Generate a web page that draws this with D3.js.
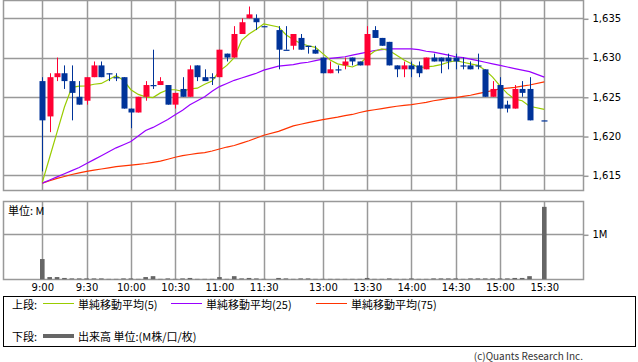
<!DOCTYPE html>
<html>
<head>
<meta charset="utf-8">
<script src="https://cdn.jsdelivr.net/npm/d3@7"></script>
<style>
  body { margin: 0; background: #fff; }
  svg { display: block; font-family: "DejaVu Sans", sans-serif; }
  .jp { font-family: "Noto Sans CJK JP", sans-serif; font-size: 11px; fill: #000; }
</style>
</head>
<body>
<div id="chart"></div>
<script>
// 5-minute bars, morning + afternoon session
const times = [
  "9:00","9:05","9:10","9:15","9:20","9:25","9:30","9:35","9:40","9:45","9:50","9:55",
  "10:00","10:05","10:10","10:15","10:20","10:25","10:30","10:35","10:40","10:45","10:50","10:55",
  "11:00","11:05","11:10","11:15","11:20","11:25","11:30",
  "12:30","12:35","12:40","12:45","12:50","12:55",
  "13:00","13:05","13:10","13:15","13:20","13:25","13:30","13:35","13:40","13:45","13:50","13:55",
  "14:00","14:05","14:10","14:15","14:20","14:25","14:30","14:35","14:40","14:45","14:50","14:55",
  "15:00","15:05","15:10","15:15","15:20","15:30"
];
const open = [
  1627,1622.5,1627.5,1628,1627,1625,1624.5,1627.5,1629,1628,1627.5,1627.5,
  1623.5,1623,1625,1626.5,1626.5,1626.5,1624,1626,1625,1629,1627.5,1627.5,
  1627.5,1630.5,1630,1633,1635,1635,1634,
  1633.5,1631,1631.5,1632.5,1631.5,1631,
  1630,1628,1628.5,1629,1630,1629.5,1629,1633.5,1632.5,1632,1629,1628.5,
  1629,1629,1628.5,1630,1630,1630,1630,1629,1629,1629,1628.5,1625,
  1626.5,1624,1623.5,1626,1626,1622
];
const high = [
  1627.5,1628,1630,1629,1629,1627,1627.5,1629.5,1629.5,1628,1628,1627.5,
  1623.5,1625,1627,1631,1627.5,1626.5,1625.5,1627.5,1629,1629,1628.5,1628,
  1631,1630.5,1634,1635,1636.5,1635.5,1634,
  1634,1634,1633,1633,1631.5,1631.5,
  1630,1629.5,1629,1630,1630,1629.5,1634,1634,1632.5,1632,1629,1629.5,
  1629.5,1629.5,1630,1630.5,1630,1630.5,1630.5,1630,1629.5,1630.5,1628.5,1627,
  1627.5,1624.5,1626.5,1627,1627.5,1622
];
const low = [
  1615.5,1620.5,1627,1626,1622,1624,1624,1627.5,1627.5,1627,1627,1623.5,
  1621,1623,1624.5,1626,1626.5,1624,1623.5,1625,1625,1627,1627,1626.5,
  1627.5,1629.5,1630,1633,1635,1633.5,1634,
  1628.5,1631,1631,1631,1630.5,1630.5,
  1628,1628,1628,1628.5,1629,1629,1629,1632.5,1631.5,1629,1627.5,1627.5,
  1627.5,1627.5,1628.5,1629.5,1628,1628.5,1628.5,1628.5,1628.5,1628.5,1625,1625,
  1623.5,1623,1623.5,1625,1622,1622
];
const close = [
  1622,1627.5,1628,1627,1625.5,1624,1627.5,1629,1627.5,1628,1627.5,1623.5,
  1623,1625,1626.5,1626.5,1627,1624,1625.5,1625,1628.5,1627.5,1627,1627.5,
  1631,1630,1633,1634.5,1635.5,1634.5,1634,
  1631,1631,1633,1631,1631.5,1630.5,
  1628,1628.5,1628.5,1629.5,1629.5,1629,1633,1632.5,1631.5,1629,1628.5,1629,
  1628.5,1628,1630,1629.5,1629.5,1629.5,1629.5,1629,1628.5,1629,1625,1626,
  1623.5,1623.5,1626,1625.5,1622,1622
];
// volume, millions
const volume = [
  0.45,0.05,0.05,0.03,0.02,0.02,0.02,0.02,0.02,0.01,0.01,0.02,
  0.02,0.01,0.05,0.07,0.01,0.02,0.01,0.02,0.03,0.01,0.01,0.01,
  0.05,0.01,0.07,0.02,0.03,0.02,0.01,
  0.03,0.02,0.01,0.02,0.02,0.01,
  0.01,0.01,0.01,0.01,0.01,0.01,0.03,0.01,0.01,0.02,0.01,0.01,
  0.02,0.01,0.01,0.02,0.02,0.02,0.02,0.01,0.02,0.02,0.02,0.02,
  0.02,0.02,0.03,0.03,0.07,1.61
];
const ma5 = [
  1614.1,1617.3,1620.5,1623.7,1626.2,1626.35,1626.4,1626.6,1626.7,1627.2,1627.7,1627.1,
  1625.9,1625.3,1625.0,1624.9,1625.5,1625.9,1625.9,1625.7,1626.0,1626.1,1626.6,1627.0,
  1628.3,1629.0,1630.0,1632.2,1633.0,1633.6,1634.3,
  1633.9,1632.9,1632.3,1631.8,1631.5,1631.3,
  1630.5,1629.7,1629.2,1629.0,1628.8,1629.2,1630.1,1630.8,1631.1,1630.9,1630.3,1629.7,
  1629.2,1628.7,1628.8,1628.9,1629.1,1629.4,1629.6,1629.4,1629.2,1629.0,1628.4,1627.5,
  1626.4,1625.4,1624.7,1624.5,1623.8,1623.4
];
const ma25 = [
  1614.0,1614.4,1614.8,1615.2,1615.6,1616.0,1616.5,1617.0,1617.5,1618.0,1618.5,1618.9,
  1619.3,1620.0,1620.7,1621.1,1621.6,1622.1,1622.7,1623.3,1624.0,1624.5,1625.0,1625.7,
  1626.3,1626.7,1627.1,1627.4,1627.7,1628.0,1628.4,
  1628.9,1629.0,1629.1,1629.3,1629.4,1629.6,
  1629.8,1629.9,1630.0,1630.1,1630.3,1630.5,1630.7,1630.9,1631.0,1631.1,1631.1,1631.1,
  1631.1,1631.0,1630.8,1630.7,1630.5,1630.3,1630.1,1630.0,1629.8,1629.6,1629.4,1629.2,
  1629.0,1628.8,1628.6,1628.4,1628.2,1627.5
];
const ma75 = [
  1614.0,1614.3,1614.6,1614.85,1615.1,1615.3,1615.5,1615.65,1615.8,1615.95,1616.1,1616.2,
  1616.3,1616.4,1616.5,1616.65,1616.8,1617.05,1617.3,1617.5,1617.65,1617.8,1617.9,1618.1,
  1618.35,1618.6,1618.8,1619.1,1619.4,1619.75,1620.1,
  1620.6,1620.95,1621.3,1621.5,1621.7,1621.9,
  1622.1,1622.25,1622.4,1622.6,1622.75,1623.0,1623.2,1623.35,1623.5,1623.65,1623.8,1623.9,
  1624.0,1624.15,1624.3,1624.5,1624.65,1624.8,1624.9,1625.05,1625.2,1625.4,1625.6,1625.8,
  1626.0,1626.1,1626.2,1626.35,1626.5,1626.9
];

const priceTicks = [1615, 1620, 1625, 1630, 1635];
const timeTicks = ["9:00","9:30","10:00","10:30","11:00","11:30","13:00","13:30","14:00","14:30","15:00","15:30"];
const volumeTicks = [1];
const maSeries = [
  { name: "単純移動平均(5)", values: ma5, color: "#99cc00" },
  { name: "単純移動平均(25)", values: ma25, color: "#9900ff" },
  { name: "単純移動平均(75)", values: ma75, color: "#ff3300" },
];

const W = 638, H = 362;
const frame = { left: 3.5, right: 583.5 };
const pricePanel = { top: 0.5, bottom: 190.5 };
const volPanel = { top: 201.5, bottom: 279.5 };
const gridColor = "#999";
const upColor = "#ff0033", downColor = "#003399";

// trading minutes since 9:00, lunch break squeezed to 10 minutes
const sessionMinutes = (t) => {
  const [h, m] = t.split(":").map(Number);
  const mins = h * 60 + m - 540;
  return mins >= 210 ? mins - 50 : mins;
};

const x = d3.scaleLinear().domain([0, 340]).range([42.3, 544.3]);
const y = d3.scaleLinear().domain([1615, 1635]).range([175.3, 18.3]);
const yv = d3.scaleLinear().domain([0, 1]).range([279.3, 234.3]);

const bars = times.map((t, i) => ({
  t, xm: sessionMinutes(t),
  o: open[i], h: high[i], l: low[i], c: close[i], v: volume[i],
}));

const svg = d3.select("#chart").append("svg").attr("width", W).attr("height", H);

// ---------- grids & frames ----------
function drawGrid(g, top, bottom) {
  g.selectAll(".vgrid")
    .data(timeTicks)
    .join("line")
    .attr("class", "vgrid")
    .attr("x1", (d) => Math.round(x(sessionMinutes(d))) + 0.5)
    .attr("x2", (d) => Math.round(x(sessionMinutes(d))) + 0.5)
    .attr("y1", top)
    .attr("y2", bottom)
    .attr("stroke", gridColor)
    .attr("stroke-width", 1.5);
}

function styleAxis(g) {
  g.select(".domain").remove();
  g.selectAll(".tick line").attr("stroke", gridColor).attr("stroke-width", 1.5)
    .attr("transform", "translate(0,0.5)");
  g.selectAll(".tick text").attr("font-size", 10).attr("fill", "#000")
    .attr("font-family", "DejaVu Sans");
}

const gPrice = svg.append("g");
drawGrid(gPrice, pricePanel.top, pricePanel.bottom);
gPrice
  .selectAll(".hgrid")
  .data(priceTicks)
  .join("line")
  .attr("class", "hgrid")
  .attr("x1", frame.left)
  .attr("x2", frame.right)
  .attr("y1", (d) => Math.round(y(d)) + 0.5)
  .attr("y2", (d) => Math.round(y(d)) + 0.5)
  .attr("stroke", gridColor)
  .attr("stroke-width", 1.5);
gPrice
  .append("rect")
  .attr("x", frame.left)
  .attr("y", pricePanel.top)
  .attr("width", frame.right - frame.left)
  .attr("height", pricePanel.bottom - pricePanel.top)
  .attr("fill", "none")
  .attr("stroke", gridColor)
  .attr("stroke-width", 1.5);
gPrice
  .append("g")
  .attr("transform", `translate(${frame.right},0)`)
  .call(
    d3.axisRight(y)
      .tickValues(priceTicks)
      .tickSize(5)
      .tickPadding(4)
      .tickFormat(d3.format(","))
  )
  .call(styleAxis);

const gVol = svg.append("g");
drawGrid(gVol, volPanel.top, volPanel.bottom);
gVol
  .selectAll(".hgrid")
  .data(volumeTicks)
  .join("line")
  .attr("class", "hgrid")
  .attr("x1", frame.left)
  .attr("x2", frame.right)
  .attr("y1", (d) => Math.round(yv(d)) + 0.5)
  .attr("y2", (d) => Math.round(yv(d)) + 0.5)
  .attr("stroke", gridColor)
  .attr("stroke-width", 1.5);
gVol
  .append("rect")
  .attr("x", frame.left)
  .attr("y", volPanel.top)
  .attr("width", frame.right - frame.left)
  .attr("height", volPanel.bottom - volPanel.top)
  .attr("fill", "none")
  .attr("stroke", gridColor)
  .attr("stroke-width", 1.5);
gVol
  .append("g")
  .attr("transform", `translate(${frame.right},0)`)
  .call(
    d3.axisRight(yv)
      .tickValues(volumeTicks)
      .tickSize(5)
      .tickPadding(4)
      .tickFormat((d) => `${d}M`)
  )
  .call(styleAxis);
gVol
  .append("text")
  .attr("class", "jp")
  .attr("x", 8)
  .attr("y", 210)
  .attr("dominant-baseline", "central")
  .text("単位: M");

// time axis under the volume panel
svg
  .append("g")
  .attr("transform", `translate(0,${volPanel.bottom})`)
  .call(
    d3.axisBottom(x)
      .tickValues(timeTicks.map(sessionMinutes))
      .tickSize(0)
      .tickPadding(4)
      .tickFormat((d, i) => timeTicks[i])
  )
  .call(styleAxis);

// ---------- volume bars ----------
svg
  .append("g")
  .selectAll("rect")
  .data(bars)
  .join("rect")
  .attr("x", (d) => x(d.xm) - 2.3)
  .attr("width", 4.6)
  .attr("y", (d) => yv(d.v))
  .attr("height", (d) => yv(0) - yv(d.v))
  .attr("fill", "#666");

// ---------- moving averages ----------
const line = d3.line().x((d) => x(d[0])).y((d) => y(d[1]));
svg
  .append("g")
  .selectAll("path")
  .data(maSeries.slice().reverse())
  .join("path")
  .attr("fill", "none")
  .attr("stroke", (d) => d.color)
  .attr("stroke-width", 1.2)
  .attr("d", (s) => line(bars.map((b, i) => [b.xm, s.values[i]])));

// ---------- candles ----------
const candle = svg
  .append("g")
  .selectAll("g")
  .data(bars)
  .join("g")
  .attr("fill", (d) => (d.c > d.o ? upColor : downColor))
  .attr("stroke", (d) => (d.c > d.o ? upColor : downColor));
candle
  .append("line")
  .attr("x1", (d) => Math.round(x(d.xm)) + 0.5)
  .attr("x2", (d) => Math.round(x(d.xm)) + 0.5)
  .attr("y1", (d) => y(d.h))
  .attr("y2", (d) => y(d.l))
  .attr("stroke-width", 1);
candle
  .append("rect")
  .attr("stroke", "none")
  .attr("x", (d) => Math.round(x(d.xm)) - 2.5)
  .attr("width", 6)
  .attr("y", (d) => y(Math.max(d.o, d.c)))
  .attr("height", (d) => Math.max(1.2, y(Math.min(d.o, d.c)) - y(Math.max(d.o, d.c))));

// ---------- legend ----------
const legend = svg.append("g");
legend
  .append("rect")
  .attr("x", 3.5)
  .attr("y", 296.5)
  .attr("width", 632)
  .attr("height", 50)
  .attr("fill", "none")
  .attr("stroke", "#000");
legend.append("text").attr("class", "jp").attr("x", 12).attr("y", 304)
  .attr("dominant-baseline", "central").text("上段:");
legend.append("text").attr("class", "jp").attr("x", 12).attr("y", 336)
  .attr("dominant-baseline", "central").text("下段:");

const legendX = [43, 171, 316];
const maItem = legend
  .selectAll(".ma-item")
  .data(maSeries)
  .join("g")
  .attr("class", "ma-item")
  .attr("transform", (d, i) => `translate(${legendX[i]},303.5)`);
maItem.append("line").attr("x1", 0).attr("x2", 31).attr("stroke", (d) => d.color).attr("stroke-width", 1);
maItem.append("text").attr("class", "jp").attr("x", 35).attr("y", 0.5)
  .attr("dominant-baseline", "central").text((d) => d.name);

legend.append("line").attr("x1", 43).attr("x2", 74).attr("y1", 336).attr("y2", 336)
  .attr("stroke", "#666").attr("stroke-width", 4);
legend.append("text").attr("class", "jp").attr("x", 78).attr("y", 336)
  .attr("dominant-baseline", "central").text("出来高 単位:(M株/口/枚)");

svg
  .append("text")
  .attr("x", 583)
  .attr("y", 355)
  .attr("text-anchor", "end")
  .attr("dominant-baseline", "central")
  .attr("font-size", 10)
  .attr("font-family", "Noto Sans CJK JP")
  .attr("fill", "#333")
  .text("(c)Quants Research Inc.");
</script>
</body>
</html>
